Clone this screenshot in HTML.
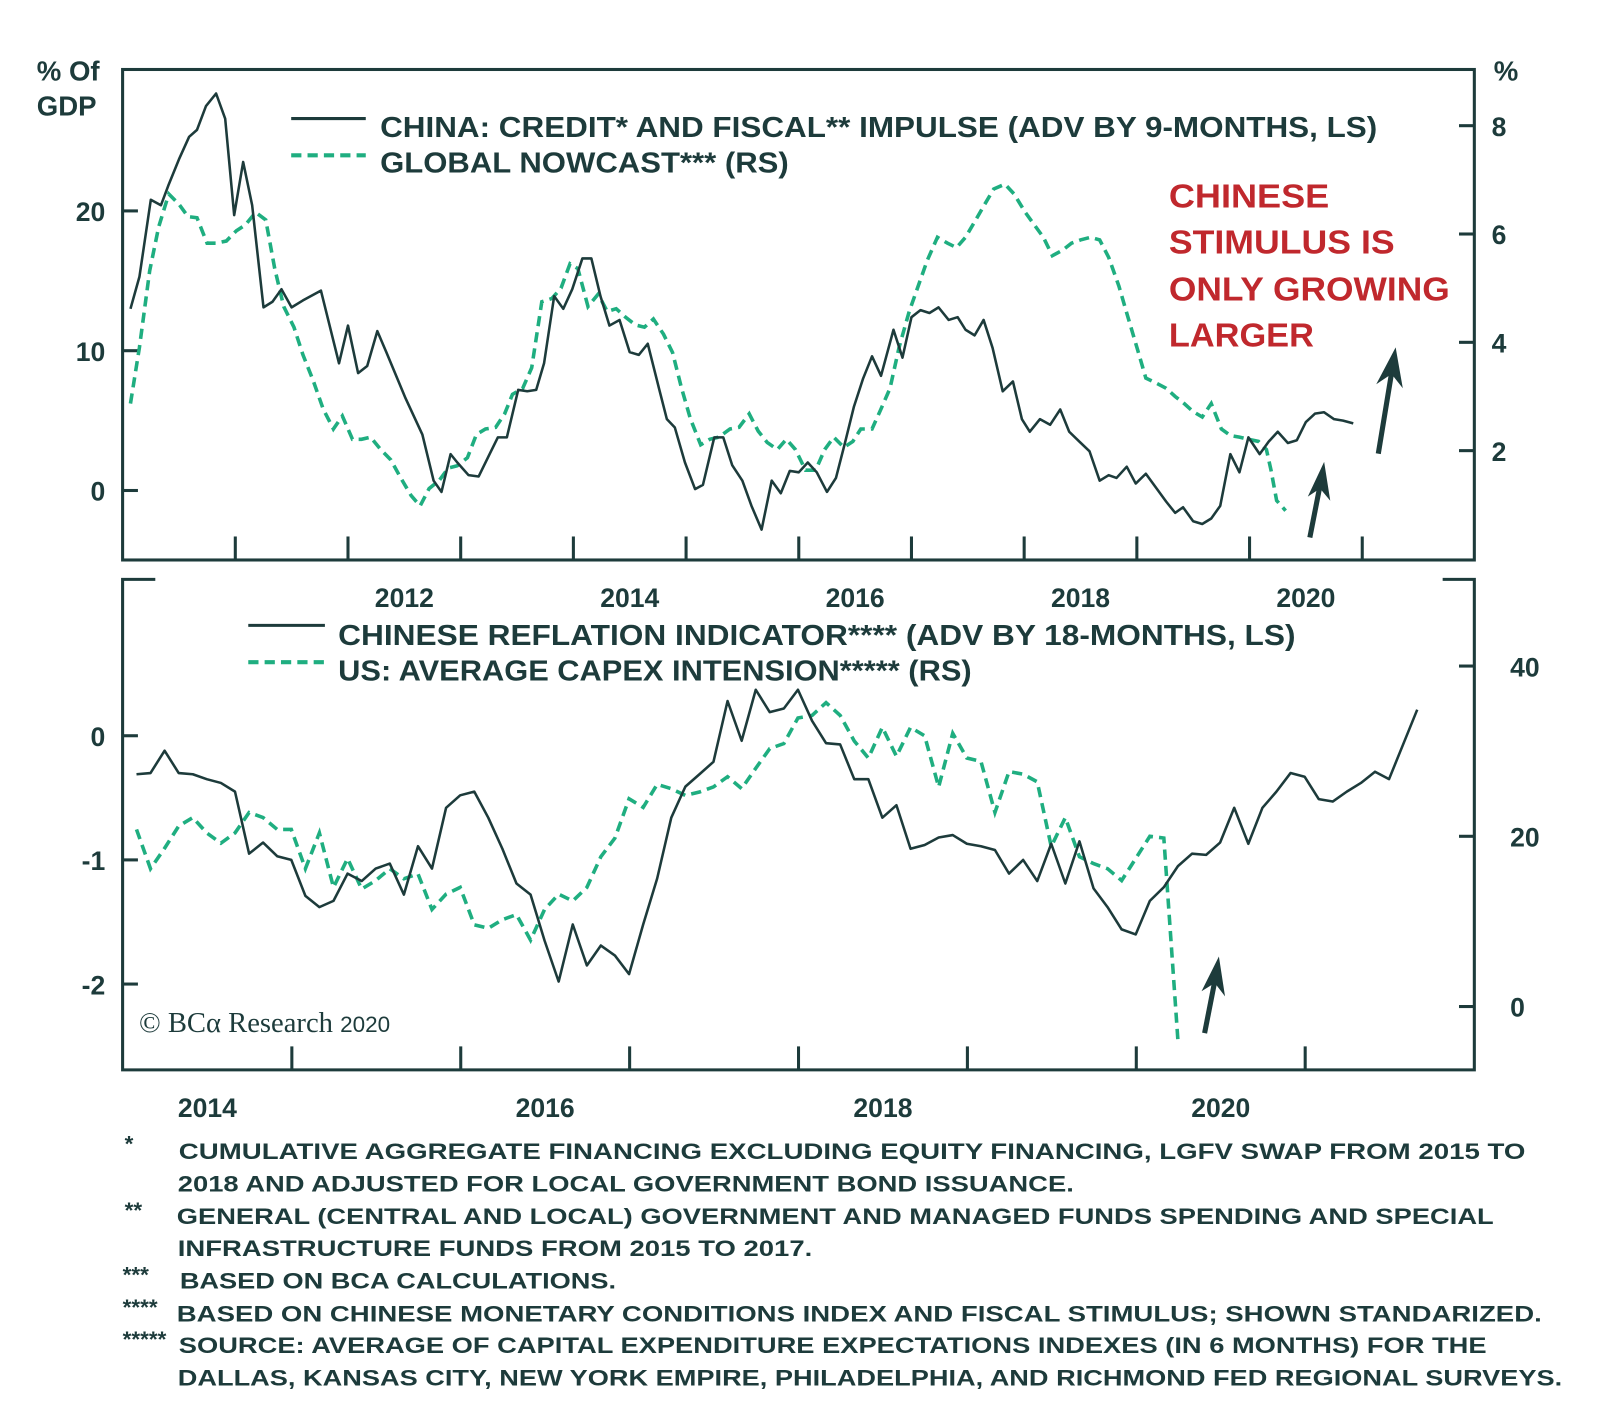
<!DOCTYPE html>
<html><head><meta charset="utf-8"><style>
html,body{margin:0;padding:0;background:#fff;}
svg{display:block;}
text{font-family:"Liberation Sans",sans-serif;font-weight:bold;fill:#1d3b3b;}
</style></head><body>
<svg id="chart" width="1600" height="1402" viewBox="0 0 1566 1372" preserveAspectRatio="none" xmlns="http://www.w3.org/2000/svg">
<g id="static">
  <rect x="120" y="68" width="1323" height="480" fill="none" stroke="#1d3b3b" stroke-width="3"/>
  <g stroke="#1d3b3b" stroke-width="3" fill="none">
    <polyline points="152,567 120,567 120,1047 1443,1047 1443,567 1412,567"/>
  </g>
  <text x="36" y="79" font-size="27">% Of</text>
  <text x="36" y="113" font-size="27">GDP</text>
  <text x="1462" y="79" font-size="27">%</text>

  <g>
    <line x1="285" y1="116" x2="358" y2="116" stroke="#1d3b3b" stroke-width="3"/>
    <text x="372" y="134" font-size="28" textLength="976" lengthAdjust="spacingAndGlyphs">CHINA: CREDIT* AND FISCAL** IMPULSE (ADV BY 9-MONTHS, LS)</text>
    <line x1="285" y1="152" x2="358" y2="152" stroke="#1fae80" stroke-width="4" stroke-dasharray="10,6"/>
    <text x="372" y="169" font-size="28" textLength="400" lengthAdjust="spacingAndGlyphs">GLOBAL NOWCAST*** (RS)</text>
  </g>
  <g fill="#c0282d">
    <text x="1144" y="203" font-size="33" style="fill:#c0282d" textLength="157" lengthAdjust="spacingAndGlyphs">CHINESE</text>
    <text x="1144" y="248" font-size="33" style="fill:#c0282d" textLength="221" lengthAdjust="spacingAndGlyphs">STIMULUS IS</text>
    <text x="1144" y="294" font-size="33" style="fill:#c0282d" textLength="275" lengthAdjust="spacingAndGlyphs">ONLY GROWING</text>
    <text x="1144" y="339" font-size="33" style="fill:#c0282d" textLength="142" lengthAdjust="spacingAndGlyphs">LARGER</text>
  </g>

  <g>
    <line x1="243" y1="612" x2="318" y2="612" stroke="#1d3b3b" stroke-width="3"/>
    <text x="331" y="631" font-size="28" textLength="937" lengthAdjust="spacingAndGlyphs">CHINESE REFLATION INDICATOR**** (ADV BY 18-MONTHS, LS)</text>
    <line x1="243" y1="648" x2="318" y2="648" stroke="#1fae80" stroke-width="4" stroke-dasharray="10,6"/>
    <text x="331" y="666" font-size="28" textLength="620" lengthAdjust="spacingAndGlyphs">US: AVERAGE CAPEX INTENSION***** (RS)</text>
  </g>

  <text x="136" y="1010" font-size="28" style="font-family:'Liberation Serif',serif;font-weight:normal">© BCα Research <tspan style="font-family:'Liberation Sans',sans-serif" font-size="22">2020</tspan></text>

  <g stroke="#1d3b3b" stroke-width="5" fill="#1d3b3b">
    <line x1="1282" y1="526" x2="1292" y2="475"/>
    <polygon points="1296,452 1302,490 1292,478 1280,486" stroke="none"/>
    <line x1="1349" y1="444" x2="1362" y2="365"/>
    <polygon points="1366,340 1373,380 1362,366 1347,376" stroke="none"/>
    <line x1="1179" y1="1011" x2="1189" y2="960"/>
    <polygon points="1193,936 1199,975 1189,962 1176,970" stroke="none"/>
  </g>

  <g font-size="22">
    <text x="122" y="1127">*</text>
    <text x="175" y="1134" textLength="1318" lengthAdjust="spacingAndGlyphs">CUMULATIVE AGGREGATE FINANCING EXCLUDING EQUITY FINANCING, LGFV SWAP FROM 2015 TO</text>
    <text x="174" y="1166" textLength="877" lengthAdjust="spacingAndGlyphs">2018 AND ADJUSTED FOR LOCAL GOVERNMENT BOND ISSUANCE.</text>
    <text x="122" y="1192">**</text>
    <text x="173" y="1198" textLength="1289" lengthAdjust="spacingAndGlyphs">GENERAL (CENTRAL AND LOCAL) GOVERNMENT AND MANAGED FUNDS SPENDING AND SPECIAL</text>
    <text x="174" y="1229" textLength="621" lengthAdjust="spacingAndGlyphs">INFRASTRUCTURE FUNDS FROM 2015 TO 2017.</text>
    <text x="120" y="1255">***</text>
    <text x="176" y="1261" textLength="427" lengthAdjust="spacingAndGlyphs">BASED ON BCA CALCULATIONS.</text>
    <text x="120" y="1287">****</text>
    <text x="173" y="1293" textLength="1336" lengthAdjust="spacingAndGlyphs">BASED ON CHINESE MONETARY CONDITIONS INDEX AND FISCAL STIMULUS; SHOWN STANDARIZED.</text>
    <text x="120" y="1318">*****</text>
    <text x="175" y="1324" textLength="1280" lengthAdjust="spacingAndGlyphs">SOURCE: AVERAGE OF CAPITAL EXPENDITURE EXPECTATIONS INDEXES (IN 6 MONTHS) FOR THE</text>
    <text x="174" y="1356" textLength="1355" lengthAdjust="spacingAndGlyphs">DALLAS, KANSAS CITY, NEW YORK EMPIRE, PHILADELPHIA, AND RICHMOND FED REGIONAL SURVEYS.</text>
  </g>
</g>
<g id="dyn"></g>
</svg>
<script>
// ---------- TOP PANEL DATA ----------
const topSolidDates = [2010.07,2010.15,2010.25,2010.34,2010.41,2010.50,2010.59,2010.66,2010.74,2010.83,2010.91,2010.99,2011.07,2011.15,2011.25,2011.33,2011.41,2011.50,2011.60,2011.76,2011.92,2012.00,2012.09,2012.17,2012.26,2012.34,2012.51,2012.66,2012.76,2012.83,2012.91,2012.97,2013.07,2013.16,2013.25,2013.33,2013.41,2013.51,2013.59,2013.67,2013.74,2013.83,2013.91,2013.99,2014.08,2014.16,2014.24,2014.32,2014.41,2014.50,2014.58,2014.66,2014.76,2014.83,2014.90,2014.99,2015.08,2015.15,2015.25,2015.33,2015.41,2015.50,2015.58,2015.67,2015.76,2015.84,2015.92,2016.00,2016.08,2016.16,2016.25,2016.33,2016.41,2016.49,2016.57,2016.65,2016.73,2016.84,2016.92,2017.00,2017.08,2017.16,2017.24,2017.33,2017.41,2017.48,2017.56,2017.64,2017.72,2017.81,2017.90,2017.98,2018.05,2018.14,2018.23,2018.32,2018.40,2018.49,2018.58,2018.67,2018.75,2018.82,2018.91,2018.99,2019.08,2019.17,2019.26,2019.34,2019.41,2019.50,2019.58,2019.66,2019.74,2019.83,2019.91,2019.99,2020.09,2020.17,2020.25,2020.34,2020.42,2020.50,2020.58,2020.66,2020.75,2020.83,2020.92];
const topSolidValues = [13.0,15.3,20.8,20.4,21.9,23.7,25.3,25.8,27.5,28.4,26.6,19.7,23.5,20.4,13.1,13.5,14.4,13.1,13.6,14.3,9.1,11.8,8.4,8.9,11.4,9.9,6.6,4.0,0.7,-0.1,2.6,2.0,1.1,1.0,2.5,3.8,3.8,7.2,7.1,7.2,9.1,13.9,13.0,14.4,16.6,16.6,13.9,11.8,12.2,9.9,9.7,10.5,7.3,5.1,4.5,2.0,0.1,0.4,3.8,3.8,1.8,0.7,-1.1,-2.8,0.7,-0.2,1.4,1.3,2.0,1.3,-0.1,0.9,3.4,6.0,8.0,9.6,8.2,11.5,9.5,12.4,12.9,12.7,13.1,12.2,12.4,11.5,11.1,12.2,10.2,7.1,7.8,5.1,4.2,5.1,4.7,5.8,4.2,3.5,2.8,0.7,1.1,0.9,1.7,0.5,1.2,0.2,-0.8,-1.6,-1.2,-2.2,-2.4,-2.0,-1.1,2.6,1.3,3.8,2.6,3.5,4.2,3.4,3.6,4.9,5.5,5.6,5.1,5.0,4.8];
const topDashDates = [2010.07,2010.15,2010.24,2010.32,2010.41,2010.50,2010.58,2010.66,2010.75,2010.83,2010.92,2011.01,2011.09,2011.18,2011.27,2011.35,2011.43,2011.52,2011.60,2011.69,2011.78,2011.87,2011.95,2012.04,2012.12,2012.20,2012.29,2012.38,2012.47,2012.56,2012.64,2012.72,2012.81,2012.89,2012.97,2013.06,2013.14,2013.22,2013.31,2013.39,2013.46,2013.55,2013.63,2013.72,2013.81,2013.89,2013.97,2014.04,2014.13,2014.22,2014.30,2014.38,2014.46,2014.55,2014.63,2014.71,2014.80,2014.88,2014.96,2015.04,2015.13,2015.21,2015.29,2015.39,2015.47,2015.56,2015.64,2015.72,2015.81,2015.89,2015.97,2016.06,2016.15,2016.23,2016.31,2016.40,2016.48,2016.55,2016.65,2016.73,2016.81,2016.89,2016.98,2017.06,2017.14,2017.23,2017.32,2017.40,2017.48,2017.57,2017.65,2017.73,2017.83,2017.91,2018.01,2018.09,2018.17,2018.25,2018.34,2018.42,2018.50,2018.59,2018.67,2018.75,2018.84,2018.92,2019.00,2019.08,2019.17,2019.26,2019.34,2019.42,2019.50,2019.58,2019.66,2019.75,2019.83,2019.91,2019.99,2020.08,2020.15,2020.19,2020.24,2020.32];
const topDashValues = [2.87,3.91,5.32,6.13,6.74,6.55,6.32,6.30,5.83,5.83,5.87,6.06,6.17,6.40,6.26,5.36,4.66,4.28,3.77,3.30,2.77,2.40,2.64,2.21,2.21,2.25,2.02,1.83,1.49,1.17,0.98,1.30,1.45,1.68,1.72,1.87,2.30,2.40,2.43,2.68,3.04,3.15,3.53,4.75,4.81,5.00,5.45,5.36,4.66,4.89,4.57,4.62,4.47,4.32,4.28,4.43,4.15,3.81,3.15,2.58,2.11,2.21,2.25,2.40,2.43,2.68,2.36,2.15,2.02,2.21,2.02,1.64,1.64,2.02,2.25,2.06,2.17,2.40,2.40,2.77,3.15,3.91,4.57,5.04,5.51,5.94,5.83,5.75,5.94,6.26,6.55,6.83,6.92,6.74,6.40,6.17,5.94,5.60,5.70,5.83,5.89,5.94,5.89,5.57,5.04,4.47,3.91,3.34,3.25,3.15,3.00,2.87,2.72,2.62,2.87,2.40,2.28,2.25,2.21,2.17,2.02,1.64,1.08,0.89];
const topLeftTicks = [0,10,20];
const topRightTicks = [2,4,6,8];
const topYearTicks = [2011,2012,2013,2014,2015,2016,2017,2018,2019,2020,2021];
const topYearLabels = [2012,2014,2016,2018,2020];

// ---------- BOTTOM PANEL DATA (monthly) ----------
const botStart = 2013.58;
const botSolidValues = [-0.31,-0.30,-0.12,-0.30,-0.31,-0.35,-0.38,-0.45,-0.95,-0.86,-0.97,-1.00,-1.29,-1.38,-1.33,-1.11,-1.17,-1.07,-1.03,-1.28,-0.89,-1.07,-0.58,-0.48,-0.45,-0.66,-0.91,-1.19,-1.28,-1.65,-1.98,-1.52,-1.85,-1.69,-1.77,-1.92,-1.52,-1.15,-0.66,-0.41,-0.31,-0.21,0.28,-0.04,0.37,0.19,0.22,0.37,0.12,-0.06,-0.07,-0.35,-0.35,-0.66,-0.56,-0.91,-0.88,-0.82,-0.80,-0.87,-0.89,-0.92,-1.11,-1.00,-1.17,-0.87,-1.19,-0.85,-1.23,-1.38,-1.56,-1.60,-1.33,-1.22,-1.05,-0.95,-0.96,-0.86,-0.58,-0.87,-0.58,-0.45,-0.30,-0.33,-0.51,-0.53,-0.45,-0.38,-0.29,-0.35,-0.07,0.21];
const botDashValues = [20.8,16.2,18.6,21.2,22.2,20.4,19.2,20.4,22.8,22.2,20.8,20.8,16.2,20.4,14.0,17.4,13.8,14.8,16.2,15.0,15.6,11.4,13.2,14.0,9.6,9.2,10.2,10.8,7.8,11.4,13.2,12.4,14.0,17.6,19.8,24.4,23.4,26.1,25.6,24.8,25.2,25.8,27.0,25.6,28.0,30.3,30.9,33.9,34.2,35.7,34.2,31.2,29.2,32.8,29.4,32.8,31.8,25.8,32.1,29.2,28.8,22.8,27.6,27.3,26.4,18.8,22.2,17.6,16.8,16.2,14.8,17.4,20.0,19.8,-4.0];
const botLeftTicks = [-2,-1,0];
const botRightTicks = [0,20,40];
const botYearTicks = [2014.5,2015.5,2016.5,2017.5,2018.5,2019.5,2020.5];
const botYearLabels = [2014,2016,2018,2020];

// ---------- AXIS FUNCTIONS ----------
const xTop = d => 120 + (d - 2010) * 110.3;
const yTopL = v => 480 - v * 13.68;
const yTopR = v => 123 + (8 - v) * 53;
const xBot = d => 203 + (d - 2014) * 165.3;
const yBotL = v => 720 - v * 121.5;
const yBotR = v => 985 - v * 8.33;

const NS = 'http://www.w3.org/2000/svg';
const dyn = document.getElementById('dyn');
function mk(tag, attrs, parent) {
  const e = document.createElementNS(NS, tag);
  for (const k in attrs) e.setAttribute(k, attrs[k]);
  (parent || dyn).appendChild(e);
  return e;
}
const DARK = '#1d3b3b', GREEN = '#1fae80';

topLeftTicks.forEach(v => {
  const l = mk('line', {x1:120, x2:135, y1:yTopL(v), y2:yTopL(v), stroke:DARK, 'stroke-width':3});
  
  
  const t = mk('text', {x:103, y:yTopL(v)+10, 'font-size':26, 'text-anchor':'end'});
  t.textContent = v;
  
  
});
topRightTicks.forEach(v => {
  const l = mk('line', {x1:1428, x2:1443, y1:yTopR(v), y2:yTopR(v), stroke:DARK, 'stroke-width':3});
  
  
  const t = mk('text', {x:1460, y:yTopR(v)+10, 'font-size':26});
  t.textContent = v;
  
  
});
topYearTicks.forEach(d => {
  const l = mk('line', {x1:xTop(d), x2:xTop(d), y1:548, y2:525, stroke:DARK, 'stroke-width':3});
  
  
});
topYearLabels.forEach(y => {
  const t = mk('text', {x:xTop(y + 0.5), y:594, 'font-size':26, 'text-anchor':'middle'});
  t.textContent = y;
  
  
});

botLeftTicks.forEach(v => {
  const l = mk('line', {x1:120, x2:135, y1:yBotL(v), y2:yBotL(v), stroke:DARK, 'stroke-width':3});
  
  
  const t = mk('text', {x:103, y:yBotL(v)+10, 'font-size':26, 'text-anchor':'end'});
  t.textContent = v;
  
  
});
botRightTicks.forEach(v => {
  const l = mk('line', {x1:1428, x2:1443, y1:yBotR(v), y2:yBotR(v), stroke:DARK, 'stroke-width':3});
  
  
  const t = mk('text', {x:1478, y:yBotR(v)+10, 'font-size':26});
  t.textContent = v;
  
  
});
botYearTicks.forEach(d => {
  const l = mk('line', {x1:xBot(d), x2:xBot(d), y1:1047, y2:1024, stroke:DARK, 'stroke-width':3});
  
  
});
botYearLabels.forEach(y => {
  const t = mk('text', {x:xBot(y), y:1093, 'font-size':26, 'text-anchor':'middle'});
  t.textContent = y;
  
  
});

function pathPts(xs, ys) { return xs.map((x, i) => x.toFixed(1) + ',' + ys[i].toFixed(1)).join(' '); }

const p1 = mk('polyline', {points: pathPts(topDashDates.map(xTop), topDashValues.map(yTopR)), fill:'none', stroke:GREEN, 'stroke-width':3.5, 'stroke-dasharray':'10,6'});


const p2 = mk('polyline', {points: pathPts(topSolidDates.map(xTop), topSolidValues.map(yTopL)), fill:'none', stroke:DARK, 'stroke-width':2.5, 'stroke-linejoin':'round'});



const p3 = mk('polyline', {points: pathPts(botDashValues.map((v, i) => xBot(botStart + i / 12)), botDashValues.map(yBotR)), fill:'none', stroke:GREEN, 'stroke-width':3.5, 'stroke-dasharray':'10,6'});


const p4 = mk('polyline', {points: pathPts(botSolidValues.map((v, i) => xBot(botStart + i / 12)), botSolidValues.map(yBotL)), fill:'none', stroke:DARK, 'stroke-width':2.5, 'stroke-linejoin':'round'});


</script>
</body></html>
